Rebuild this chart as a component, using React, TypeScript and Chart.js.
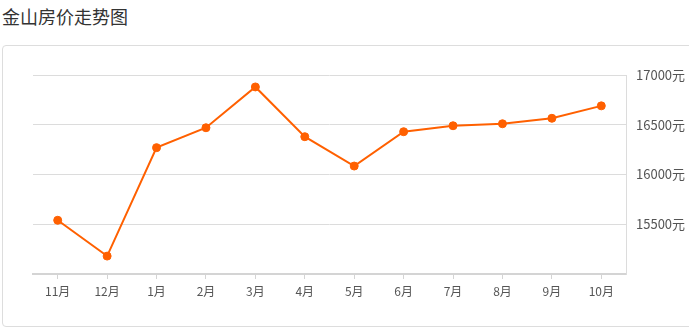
import React, { useEffect, useRef } from "react";
import { Chart, registerables } from "chart.js";

Chart.register(...registerables);

const title = "金山房价走势图";
const categories = ["11月", "12月", "1月", "2月", "3月", "4月", "5月", "6月", "7月", "8月", "9月", "10月"];
const prices = [15540, 15180, 16270, 16470, 16880, 16380, 16085, 16430, 16490, 16510, 16565, 16690];
const yMin = 15000;
const yMax = 17000;
const yStep = 500;
const unit = "元";

const W = 689;
const H = 329;

export default function App() {
  const ref = useRef<HTMLCanvasElement | null>(null);

  useEffect(() => {
    document.body.style.margin = "0";
    const canvas = ref.current;
    if (!canvas) return;
    const chart = new Chart(canvas, {
      type: "line",
      data: {
        labels: categories,
        datasets: [
          {
            data: prices,
            borderColor: "#ff6000",
            backgroundColor: "#ff6000",
            borderWidth: 2,
            pointRadius: 4,
            pointHoverRadius: 4,
            pointBackgroundColor: "#ff6000",
            pointBorderColor: "#ff6000",
            pointBorderWidth: 1,
            tension: 0,
            fill: false,
          },
        ],
      },
      options: {
        responsive: false,
        animation: false,
        maintainAspectRatio: false,
        layout: { padding: { left: 33, top: 75, right: 0, bottom: 0 } },
        plugins: {
          legend: { display: false },
          tooltip: { enabled: false },
        },
        scales: {
          x: {
            type: "category",
            offset: true,
            grid: {
              display: true,
              drawOnChartArea: false,
              drawTicks: true,
              tickLength: 5,
              tickColor: "#d4d4d4",
              offset: false,
            },
            border: { display: true, color: "#d4d4d4", width: 2 },
            ticks: {
              color: "#555",
              padding: 5,
              maxRotation: 0,
              autoSkip: false,
              font: { size: 12, family: "'Noto Sans CJK SC', 'Noto Sans', sans-serif" },
            },
            afterFit: (scale: any) => {
              scale.height = H - 274;
            },
          },
          y: {
            position: "right",
            min: yMin,
            max: yMax,
            grid: {
              color: "#dcdcdc",
              lineWidth: 1,
              drawTicks: false,
            },
            border: { display: true, color: "#dcdcdc", width: 1 },
            ticks: {
              stepSize: yStep,
              color: "#555",
              padding: 10,
              font: { size: 13, family: "'Noto Sans CJK SC', 'Noto Sans', sans-serif" },
              callback: (v: any) => (Number(v) === yMin ? "" : `${v}${unit}`),
            },
            afterFit: (scale: any) => {
              scale.width = W - 626;
            },
          },
        },
      },
    });
    return () => chart.destroy();
  }, []);

  return (
    <div style={{ position: "relative", width: W, height: H, overflow: "hidden", background: "#fff" }}>
      <div
        style={{
          position: "absolute",
          left: 2,
          top: 3,
          fontSize: 18,
          lineHeight: "26px",
          color: "#333",
          fontFamily: "'Noto Sans CJK SC', sans-serif",
          whiteSpace: "nowrap",
        }}
      >
        {title}
      </div>
      <div
        style={{
          position: "absolute",
          left: 2,
          top: 45,
          width: 720,
          height: 282,
          border: "1px solid #dddddd",
          borderRadius: 4,
          boxSizing: "border-box",
        }}
      />
      <canvas
        ref={ref}
        width={W}
        height={H}
        style={{ position: "absolute", left: 0, top: 0, width: W, height: H }}
      />
    </div>
  );
}
